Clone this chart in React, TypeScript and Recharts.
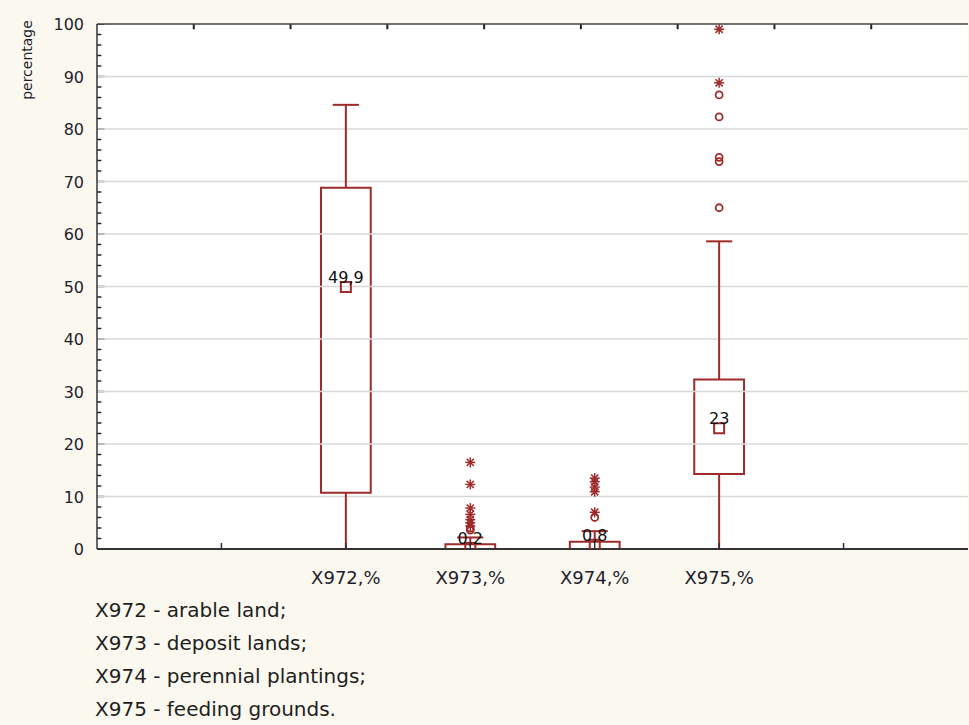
import { ComposedChart, XAxis, YAxis, Scatter, ReferenceArea, ReferenceLine } from 'recharts';

const RED = '#9e2b2b';
const AXIS = '#333';
const FONT = '"DejaVu Sans", "Liberation Sans", sans-serif';

// box plot summary per variable
const categories = ['X972,%', 'X973,%', 'X974,%', 'X975,%'];
const positions = [2, 3, 4, 5];
const mins = [0, 0, 0, 0];
const q1s = [10.7, 0, 0, 14.3];
const q3s = [68.8, 0.9, 1.4, 32.3];
const maxs = [84.6, 2.2, 3.4, 58.6];
const medians = [49.9, 0.2, 0.8, 23];
const medianLabels = ['49,9', '0,2', '0,8', '23'];

// outliers (circles) and extremes (asterisks)
const outlierCircles = [[], [4.0, 3.6], [6.0], [86.5, 82.3, 74.6, 73.8, 65.0]];
const extremeStars = [[], [16.5, 12.3, 7.8, 6.6, 5.6, 5.0, 4.4], [13.5, 12.8, 11.8, 10.9, 7.0], [99.0, 88.8]];

const yTicks = [0, 10, 20, 30, 40, 50, 60, 70, 80, 90, 100];
const yMinorTicks = [2, 4, 6, 8, 12, 14, 16, 18, 22, 24, 26, 28, 32, 34, 36, 38, 42, 44, 46, 48,
  52, 54, 56, 58, 62, 64, 66, 68, 72, 74, 76, 78, 82, 84, 86, 88, 92, 94, 96, 98];
const gridValues = [10, 20, 30, 40, 50, 60, 70, 80, 90];
const xTicks = [1, 2, 3, 4, 5, 6];
// top frame ticks, in units of the bottom axis (7 slots split into 9)
const topTicks = [7 / 9, 14 / 9, 21 / 9, 28 / 9, 35 / 9, 42 / 9, 49 / 9, 56 / 9];

const legendLines = [
  'X972 - arable land;',
  'X973 - deposit lands;',
  'X974 - perennial plantings;',
  'X975 - feeding grounds.',
];

const BOX_HALF = 0.2;
const CAP_HALF = 0.105;
// tick mark sizes in axis units
const MAJOR_LEN = 0.06;
const MINOR_LEN = 0.035;
const TICK_HALF = 0.14;

const medianPoints = positions.map((p, i) => ({ x: p, y: medians[i], label: medianLabels[i] }));
const circlePoints = outlierCircles.flatMap((vals, i) => vals.map((v) => ({ x: positions[i], y: v })));
const starPoints = extremeStars.flatMap((vals, i) => vals.map((v) => ({ x: positions[i], y: v })));

const YTick = (props: any) => {
  const { x, y, payload } = props;
  return (
    <text x={x} y={y} dy={6} textAnchor="end" fontSize={16} fontFamily={FONT} fill="#1e1e2e">
      {payload.value}
    </text>
  );
};

const XTick = (props: any) => {
  const { x, y, payload } = props;
  const idx = positions.indexOf(payload.value);
  return (
    <g>
      <line x1={x} x2={x} y1={y} y2={y - 6} stroke={AXIS} strokeWidth={1.5} />
      {idx >= 0 && (
        <text x={x} y={y + 35} textAnchor="middle" fontSize={18} fontFamily={FONT} fill="#1e1e2e">
          {categories[idx]}
        </text>
      )}
    </g>
  );
};

const MedianMark = (props: any) => {
  const { cx, cy, payload } = props;
  return (
    <g>
      <rect x={cx - 5} y={cy - 5} width={10} height={10} fill="none" stroke={RED} strokeWidth={2} />
      <text x={cx} y={cy - 4} textAnchor="middle" fontSize={16} fontFamily={FONT} fill="#111">
        {payload.label}
      </text>
    </g>
  );
};

const CircleMark = (props: any) => {
  const { cx, cy } = props;
  return <circle cx={cx} cy={cy} r={3.5} fill="none" stroke={RED} strokeWidth={1.8} />;
};

const StarMark = (props: any) => {
  const { cx, cy } = props;
  const r = 5;
  const d = r * 0.72;
  return (
    <g stroke={RED} strokeWidth={1.5}>
      <line x1={cx - r} x2={cx + r} y1={cy} y2={cy} />
      <line x1={cx} x2={cx} y1={cy - r} y2={cy + r} />
      <line x1={cx - d} x2={cx + d} y1={cy - d} y2={cy + d} />
      <line x1={cx - d} x2={cx + d} y1={cy + d} y2={cy - d} />
    </g>
  );
};

export default function App() {
  return (
    <div style={{ position: 'absolute', left: 0, top: 0, width: 969, height: 725, background: '#fbf8ef', fontFamily: FONT }}>
      {/* white plot background */}
      <div style={{ position: 'absolute', left: 97, top: 24, width: 871, height: 525, background: '#fff' }} />
      <div style={{ position: 'absolute', left: 0, top: 0 }}>
        <ComposedChart width={969} height={725} margin={{ top: 23, right: 1, bottom: 136, left: 0 }}>
          <XAxis
            dataKey="x"
            type="number"
            domain={[0, 7]}
            ticks={xTicks}
            interval={0}
            height={40}
            tickSize={0}
            tickMargin={0}
            tickLine={false}
            axisLine={{ stroke: AXIS, strokeWidth: 2 }}
            tick={(p: any) => <XTick {...p} />}
            allowDataOverflow
          />
          <XAxis
            xAxisId="top"
            orientation="top"
            type="number"
            domain={[0, 7]}
            height={1}
            tick={false}
            tickLine={false}
            axisLine={{ stroke: '#444', strokeWidth: 1.5 }}
            allowDataOverflow
          />
          <YAxis
            type="number"
            domain={[0, 100]}
            ticks={yTicks}
            interval={0}
            width={97}
            tickSize={0}
            tickMargin={13}
            tickLine={false}
            axisLine={{ stroke: AXIS, strokeWidth: 1.5 }}
            tick={(p: any) => <YTick {...p} />}
            allowDataOverflow
          />
          <YAxis
            yAxisId="right"
            orientation="right"
            type="number"
            domain={[0, 100]}
            width={0}
            tick={false}
            tickLine={false}
            axisLine={{ stroke: '#444', strokeWidth: 1.5 }}
          />

          {gridValues.map((v) => (
            <ReferenceLine key={`g-${v}`} y={v} stroke="#d8d8d8" strokeWidth={1.5} />
          ))}

          {/* inward tick marks on the frame */}
          {yTicks.map((v) => (
            <ReferenceArea
              key={`ym-${v}`}
              x1={0}
              x2={MAJOR_LEN}
              y1={Math.max(0, v - TICK_HALF)}
              y2={Math.min(100, v + TICK_HALF)}
              fill="#222"
              fillOpacity={1}
              stroke="none"
              ifOverflow="extendDomain"
            />
          ))}
          {yMinorTicks.map((v) => (
            <ReferenceArea
              key={`yn-${v}`}
              x1={0}
              x2={MINOR_LEN}
              y1={v - TICK_HALF}
              y2={v + TICK_HALF}
              fill="#222"
              fillOpacity={1}
              stroke="none"
            />
          ))}
          {topTicks.map((t, i) => (
            <ReferenceLine key={`tt-${i}`} segment={[{ x: t, y: 100 }, { x: t, y: 99 }]} stroke="#222" strokeWidth={2} />
          ))}

          {positions.map((p, i) => (
            <ReferenceLine
              key={`wu-${i}`}
              segment={[{ x: p, y: q3s[i] }, { x: p, y: maxs[i] }]}
              stroke={RED}
              strokeWidth={2}
            />
          ))}
          {positions.map((p, i) => (
            <ReferenceLine
              key={`wl-${i}`}
              segment={[{ x: p, y: mins[i] }, { x: p, y: q1s[i] }]}
              stroke={RED}
              strokeWidth={2}
            />
          ))}
          {positions.map((p, i) => (
            <ReferenceLine
              key={`cap-${i}`}
              segment={[{ x: p - CAP_HALF, y: maxs[i] }, { x: p + CAP_HALF, y: maxs[i] }]}
              stroke={RED}
              strokeWidth={2}
            />
          ))}
          {positions.map((p, i) => (
            <ReferenceArea
              key={`box-${i}`}
              x1={p - BOX_HALF}
              x2={p + BOX_HALF}
              y1={q1s[i]}
              y2={q3s[i]}
              fill="#fff"
              fillOpacity={1}
              stroke={RED}
              strokeWidth={2}
            />
          ))}

          <Scatter data={circlePoints} dataKey="y" shape={(p: any) => <CircleMark {...p} />} isAnimationActive={false} />
          <Scatter data={starPoints} dataKey="y" shape={(p: any) => <StarMark {...p} />} isAnimationActive={false} />
          <Scatter data={medianPoints} dataKey="y" shape={(p: any) => <MedianMark {...p} />} isAnimationActive={false} />
        </ComposedChart>
      </div>

      <div
        style={{
          position: 'absolute',
          left: 27,
          top: 60,
          transform: 'translate(-50%, -50%) rotate(-90deg)',
          fontSize: 14,
          color: '#1e1e2e',
          whiteSpace: 'nowrap',
        }}
      >
        percentage
      </div>

      <div style={{ position: 'absolute', left: 95, top: 594, fontSize: 20, lineHeight: '33px', color: '#1e1e1e' }}>
        {legendLines.map((t) => (
          <div key={t}>{t}</div>
        ))}
      </div>
    </div>
  );
}
